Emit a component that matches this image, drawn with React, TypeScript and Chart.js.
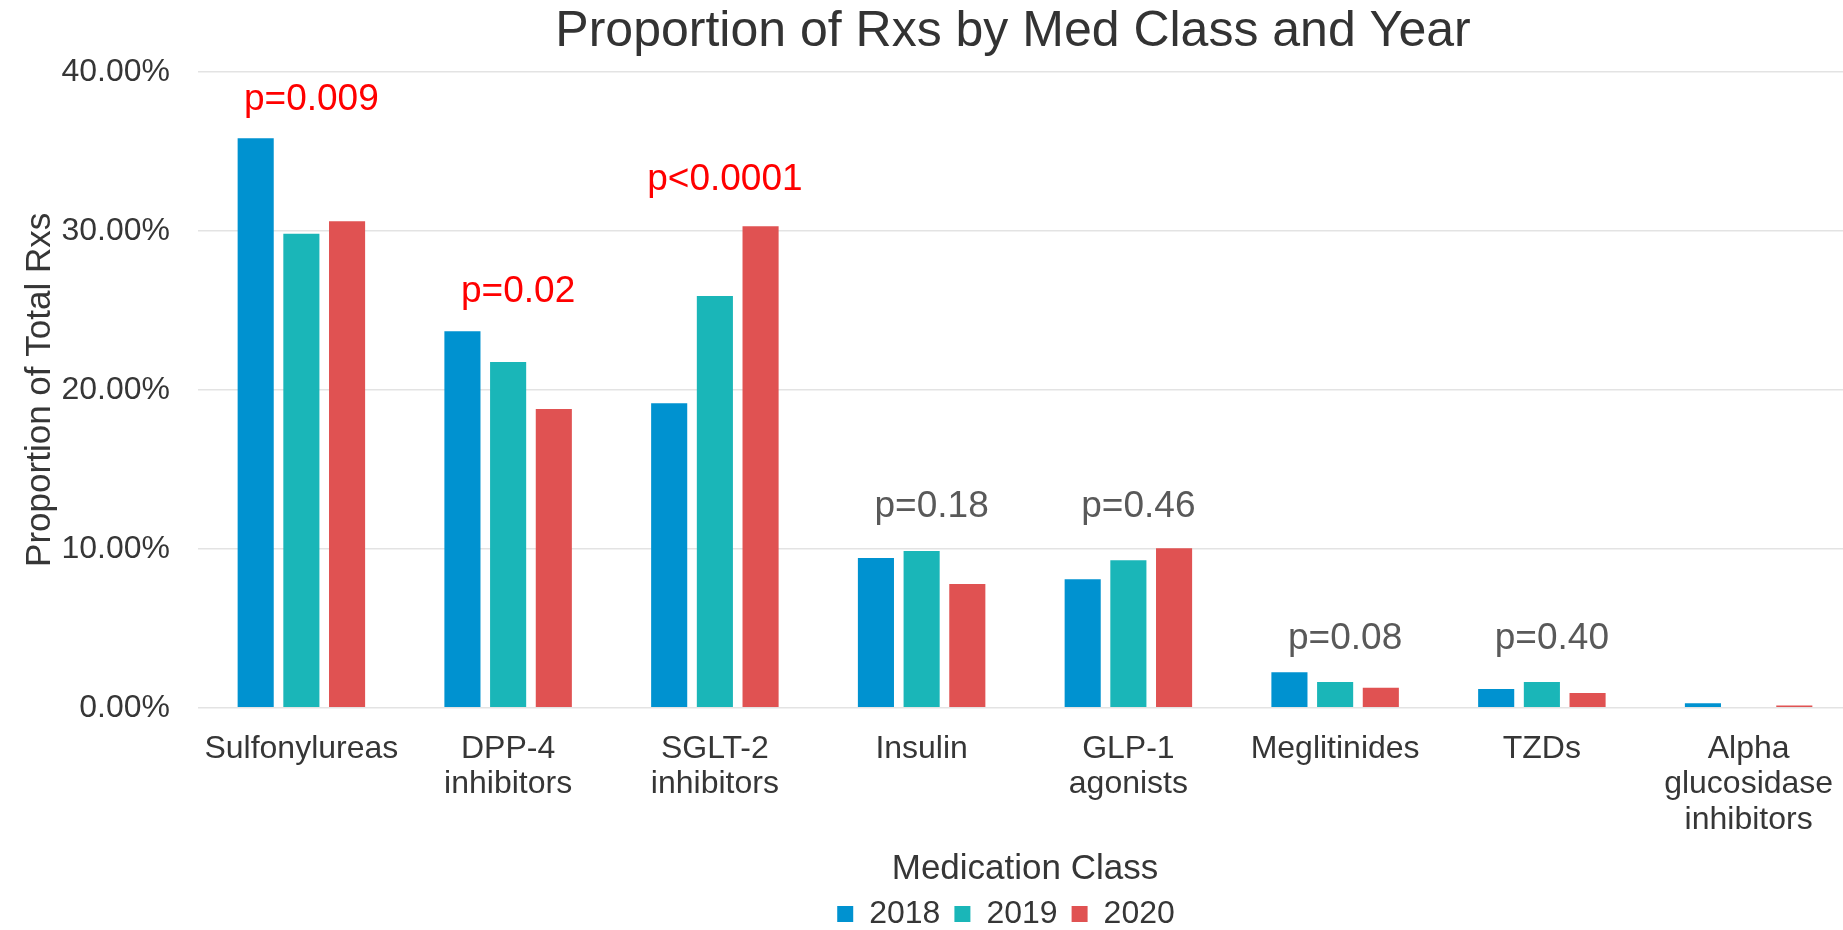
import React, { useEffect, useRef } from 'react';
import { Chart, registerables } from 'chart.js';

Chart.register(...registerables);

const categories: string[][] = [
  ['Sulfonylureas'],
  ['DPP-4', 'inhibitors'],
  ['SGLT-2', 'inhibitors'],
  ['Insulin'],
  ['GLP-1', 'agonists'],
  ['Meglitinides'],
  ['TZDs'],
  ['Alpha', 'glucosidase', 'inhibitors'],
];
const years = ['2018', '2019', '2020'];
const values2018 = [35.83, 23.68, 19.16, 9.42, 8.08, 2.23, 1.18, 0.28];
const values2019 = [29.83, 21.76, 25.9, 9.86, 9.28, 1.62, 1.62, 0];
const values2020 = [30.61, 18.8, 30.3, 7.78, 10.03, 1.26, 0.92, 0.14];
const pValueLabels = ['p=0.009', 'p=0.02', 'p<0.0001', 'p=0.18', 'p=0.46', 'p=0.08', 'p=0.40', ''];
const pValueLevels = [38.26, 26.15, 33.23, 12.62, 12.62, 4.35, 4.35, 0];
const pValueSignificant = [true, true, true, false, false, false, false, false];
const yTickValues = [0, 10, 20, 30, 40];

const FONT = '"Liberation Sans", Arial, Helvetica, sans-serif';
const TEXT = '#363636';
const COLORS = ['#0092D0', '#1AB6B8', '#E05252'];

const pValuePlugin = {
  id: 'pValues',
  afterLayout(chart: any) {
    // nudge the centred title and legend to sit where the reference has them
    if (chart.titleBlock) chart.titleBlock.left = 174;
    if (chart.legend) chart.legend.left = 160;
  },
  afterDatasetsDraw(chart: any) {
    const { ctx, scales } = chart;
    const x = scales.x;
    const y = scales.y;
    ctx.save();
    ctx.font = `37px ${FONT}`;
    ctx.textAlign = 'center';
    ctx.textBaseline = 'middle';
    pValueLabels.forEach((label, i) => {
      if (!label) return;
      ctx.fillStyle = pValueSignificant[i] ? '#FF0000' : '#595959';
      ctx.fillText(label, x.getPixelForValue(i) + 10, y.getPixelForValue(pValueLevels[i]));
    });
    ctx.restore();
  },
};

export default function App() {
  const ref = useRef<HTMLCanvasElement | null>(null);
  useEffect(() => {
    if (!ref.current) return;
    const chart = new Chart(ref.current, {
      type: 'bar',
      data: {
        labels: categories as any,
        datasets: [values2018, values2019, values2020].map((vals, i) => ({
          label: years[i],
          data: vals,
          backgroundColor: COLORS[i],
          borderWidth: 0,
          categoryPercentage: 0.663,
          barPercentage: 0.79,
        })),
      },
      options: {
        animation: false,
        responsive: false,
        devicePixelRatio: 1,
        layout: { padding: 0 },
        plugins: {
          title: {
            display: true,
            text: 'Proportion of Rxs by Med Class and Year',
            color: '#333333',
            font: { family: FONT, size: 50, weight: 'normal', lineHeight: 1.2 },
            padding: { top: 2, bottom: 10 },
            fullSize: false,
          },
          legend: {
            display: true,
            position: 'bottom',
            fullSize: false,
            labels: {
              boxWidth: 16,
              boxHeight: 16,
              padding: 14,
              color: TEXT,
              font: { family: FONT, size: 32 },
            },
          },
          tooltip: { enabled: false },
        },
        scales: {
          x: {
            grid: { display: false },
            border: { display: false },
            ticks: {
              color: TEXT,
              font: { family: FONT, size: 32, lineHeight: 1.1 },
              padding: 16,
              maxRotation: 0,
              minRotation: 0,
              autoSkip: false,
            },
            title: {
              display: true,
              text: 'Medication Class',
              color: TEXT,
              font: { family: FONT, size: 35, lineHeight: 1.2 },
              padding: { top: 0, bottom: -6 },
            },
            afterFit(scale: any) {
              scale.height = 884 - 707.7;
            },
          },
          y: {
            min: 0,
            max: 40,
            afterBuildTicks(scale: any) {
              scale.ticks = yTickValues.map((v) => ({ value: v }));
            },
            grid: { color: '#e3e3e3', lineWidth: 1.5, drawTicks: false },
            border: { display: false },
            ticks: {
              color: TEXT,
              font: { family: FONT, size: 32 },
              padding: 28,
              callback: (v: any) => Number(v).toFixed(2) + '%',
            },
            title: {
              display: true,
              text: 'Proportion of Total Rxs',
              color: TEXT,
              font: { family: FONT, size: 35, lineHeight: 1.2 },
              padding: { top: 19, bottom: 0 },
            },
            afterFit(scale: any) {
              scale.width = 198;
            },
          },
        },
      },
      plugins: [pValuePlugin],
    } as any);
    return () => chart.destroy();
  }, []);
  return (
    <div
      style={{
        position: 'fixed',
        left: 0,
        top: 0,
        width: 1843,
        height: 930,
        overflow: 'hidden',
        background: '#ffffff',
      }}
    >
      <canvas ref={ref} width={1852} height={940} style={{ display: 'block' }} />
    </div>
  );
}
